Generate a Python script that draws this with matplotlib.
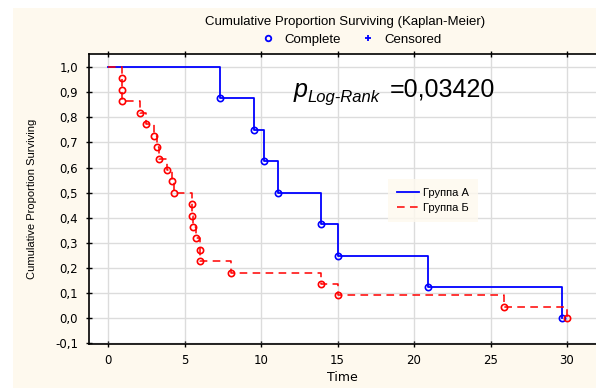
import numpy as np
import matplotlib.pyplot as plt
from matplotlib.lines import Line2D
from matplotlib.patches import Rectangle

# Kaplan-Meier estimates
# Группа А (blue, 8 subjects, all complete)
time_a = [7.3, 9.5, 10.2, 11.1, 13.9, 15.0, 20.9, 29.7]
surv_a = [0.875, 0.75, 0.625, 0.5, 0.375, 0.25, 0.125, 0.0]

# Группа Б (red, 22 subjects, all complete)
time_b = [0.9, 0.9, 0.9, 2.1, 2.45, 3.0, 3.2, 3.3, 3.85, 4.15, 4.3,
          5.45, 5.45, 5.55, 5.75, 6.0, 6.0, 8.0, 13.9, 15.0, 25.9, 30.0]
surv_b = [0.955, 0.909, 0.864, 0.818, 0.773, 0.727, 0.682, 0.636, 0.591,
          0.545, 0.5, 0.455, 0.409, 0.364, 0.318, 0.273, 0.227, 0.182,
          0.136, 0.091, 0.045, 0.0]

group_labels = ['Группа А', 'Группа Б']
xticks = [0, 5, 10, 15, 20, 25, 30]
yticks = [-0.1, 0.0, 0.1, 0.2, 0.3, 0.4, 0.5, 0.6, 0.7, 0.8, 0.9, 1.0]
p_value = '0,03420'

plt.rcParams['font.family'] = ['Liberation Sans', 'DejaVu Sans']
W, H = 596, 388
fig = plt.figure(figsize=(W / 100, H / 100), dpi=100, facecolor='white')
cream = '#fef9ee'
fig.add_artist(Rectangle((13 / W, 0), 1, 1 - 8 / H, transform=fig.transFigure,
                         facecolor=cream, edgecolor='none', zorder=-10))

ax = fig.add_axes([89 / W, 1 - 344 / H, 1 - 89 / W, (344 - 54) / H])
ax.set_facecolor('white')

blue = '#0000ff'
red = '#ff0000'

line_a, = ax.plot([0] + time_a, [1.0] + surv_a, drawstyle='steps-post', color=blue, lw=1.3, zorder=3)
ax.plot(time_a, surv_a, 'o', mfc='none', mec=blue, ms=4.5, mew=1.2, zorder=4)

line_b, = ax.plot([0] + time_b, [1.0] + surv_b, drawstyle='steps-post', color=red, lw=1.1,
                  dashes=(5, 3.5), zorder=3)
ax.plot(time_b, surv_b, 'o', mfc='none', mec=red, ms=4.5, mew=1.2, zorder=5)

ax.set_xlim(-1.26, 31.9)
ax.set_ylim(-0.102, 1.052)
ax.set_xticks(xticks)
ax.set_yticks(yticks)
ax.set_yticklabels([('%.1f' % v).replace('.', ',') for v in yticks])
ax.grid(True, color='#dcdcdc', lw=1.0, zorder=0)
ax.set_axisbelow(True)
for s in ['top', 'left', 'bottom']:
    ax.spines[s].set_linewidth(1.2)
ax.spines['right'].set_visible(False)
ax.tick_params(direction='inout', length=4, width=1, top=True, labelsize=8.5,
               labelfontfamily='DejaVu Sans')
ax.tick_params(axis='x', pad=5)
ax.tick_params(axis='y', pad=6)

ax.set_xlabel('Time', fontfamily='DejaVu Sans', fontsize=9, labelpad=3)
ax.set_ylabel('Cumulative Proportion Surviving',
              fontfamily=['Liberation Sans Narrow', 'Liberation Sans'], fontsize=8,
              fontstretch='condensed', labelpad=13)

leg = ax.legend([line_a, line_b], group_labels, loc='upper left', bbox_to_anchor=(0.585, 0.575),
                frameon=True, fontsize=8, handlelength=2.0, handletextpad=0.4,
                borderpad=0.5, labelspacing=0.4)
leg.get_frame().set_facecolor(cream)
leg.get_frame().set_edgecolor('none')
leg.get_frame().set_boxstyle('square')

# header
fig.text(345 / W, 1 - 22 / H, 'Cumulative Proportion Surviving (Kaplan-Meier)',
         ha='center', va='center', fontsize=9.5)
hdl = [Line2D([], [], ls='none', marker='o', mfc='none', mec=blue, ms=4, mew=1.3),
       Line2D([], [], ls='none', marker='+', color=blue, ms=5, mew=1.3)]
fig.legend(hdl, ['Complete', 'Censored'], ncol=2, loc='center',
           bbox_to_anchor=(351 / W, 1 - 40 / H), frameon=False, fontsize=9.5,
           handlelength=1.2, handletextpad=0.6, columnspacing=1.5)

# log-rank annotation
fig.text(294 / W, 1 - 97 / H, 'p', style='italic', fontsize=18, ha='left', va='baseline')
fig.text(307 / W, 1 - 102 / H, 'Log-Rank', style='italic', fontsize=12, ha='left', va='baseline')
fig.text(390 / W, 1 - 97 / H, '=' + p_value, fontsize=18, ha='left', va='baseline')

fig.savefig('out.png', dpi=100, facecolor=fig.get_facecolor())
